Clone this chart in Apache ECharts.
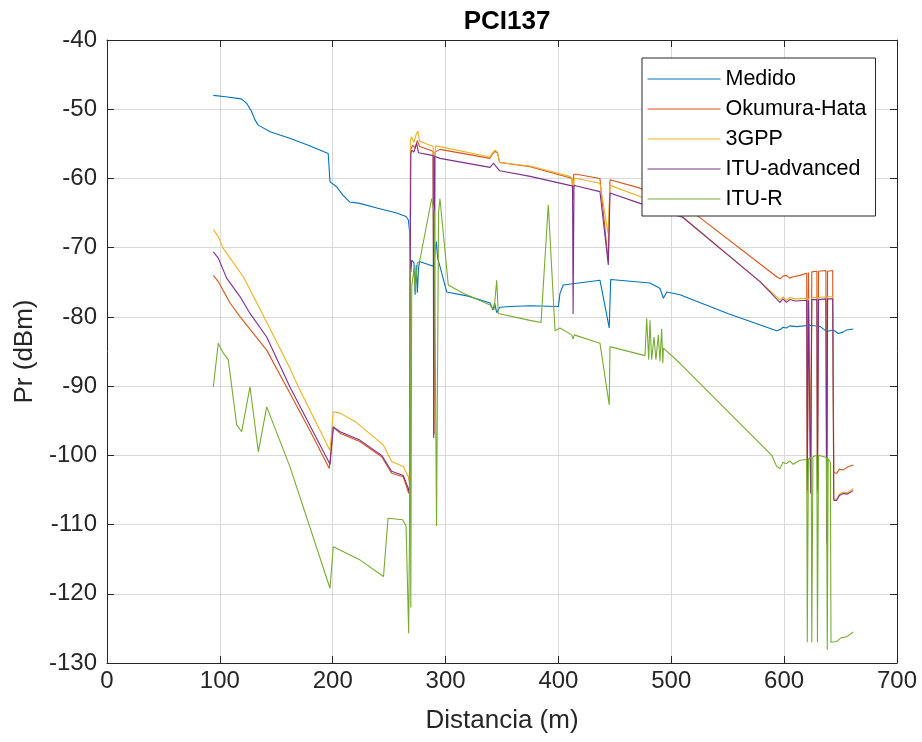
<!DOCTYPE html>
<html><head><meta charset="utf-8">
<script src="https://cdn.jsdelivr.net/npm/echarts@6/dist/echarts.min.js"></script>
<style>html,body{margin:0;padding:0;background:#fff}#c{width:922px;height:742px}</style>
</head><body><div id="c"></div><script>
const seriesNames = ['Medido','Okumura-Hata','3GPP','ITU-advanced','ITU-R'];
const xTicks = {min:0, max:700, interval:100};
const yTicks = {min:-130, max:-40, interval:10};

const medido = [[94.2,-48.0],[105,-48.2],[119,-48.5],[124,-49.2],[128,-50.3],[131,-51.5],[134,-52.3],[145,-53.3],[162,-54.2],[180,-55.3],[196,-56.4],[197.6,-60.5],[203.5,-61.2],[209,-62.4],[215,-63.4],[224,-63.6],[240,-64.3],[256.7,-65.0],[265,-65.5],[267,-66.0],[268,-67.5],[268.7,-71.0],[269.3,-73.5],[270,-71.8],[272,-72.2],[273,-76.8],[274,-72.5],[275,-76.5],[276,-73],[277,-72.0],[289,-72.7],[290.5,-71],[291.8,-69.1],[293,-71.5],[295,-72.7],[301,-76.4],[320,-77.0],[339.4,-78.0],[342,-79.0],[343.5,-78],[345.3,-79.4],[348,-78.6],[357,-78.5],[375,-78.4],[400,-78.5],[401.4,-76.6],[404.3,-75.4],[436.8,-74.7],[445,-81.6],[446.3,-74.6],[481,-75.1],[487,-75.6],[490,-75.9],[493,-77.3],[496,-76.4],[507.7,-76.8],[550,-79.5],[593.4,-82.0],[597,-81.8],[599,-81.5],[602,-81.6],[605,-81.3],[611,-81.4],[623,-81.2],[632,-81.4],[637.7,-82.1],[643.6,-81.9],[648,-82.4],[652,-82.2],[655.4,-81.9],[661.3,-81.75]];

const okumura = [[94.2,-74.0],[98.6,-74.9],[109,-78.0],[118,-80.0],[141.5,-84.8],[159,-90.1],[180,-96.5],[197,-101.9],[200.5,-95.9],[206.5,-96.8],[224,-98.0],[243.4,-100.2],[252.2,-102.6],[262.5,-103.1],[267,-105.3],[268,-105.6],[269,-55.8],[271,-55.2],[273,-55.6],[275,-54.5],[277,-55.4],[286,-55.9],[289,-56.1],[289.8,-97],[290.6,-56.2],[295,-55.8],[339.4,-57.1],[341,-56.6],[343.8,-56.1],[346,-56.3],[348,-57.7],[375,-58.3],[410,-59.9],[412,-60.0],[412.8,-63.0],[413.6,-59.4],[416,-59.4],[436.8,-60.0],[438.5,-60.2],[444.2,-72.0],[445.7,-60.2],[472.3,-61.4],[522.5,-65.3],[593.4,-74.2],[596.3,-74.5],[599,-74.1],[602,-74.0],[605,-74.4],[608,-74.2],[614,-74.0],[620,-73.7],[620.5,-102.0],[621.5,-73.6],[623,-73.6],[623.5,-102.0],[624.5,-73.5],[629,-73.4],[629.5,-102.0],[630.5,-73.4],[637,-73.3],[637.7,-102.0],[638.5,-73.4],[643,-73.3],[644,-102.5],[646.5,-102.6],[649,-102.0],[652.4,-102.1],[656,-101.7],[661.3,-101.4]];

const gpp3 = [[94.2,-67.4],[98.6,-68.4],[103,-70.1],[120.8,-74.2],[138.5,-79.8],[162,-87.4],[169.5,-90.1],[197.6,-99.3],[200.5,-93.7],[206.5,-93.9],[219.7,-95.1],[244.8,-98.5],[252.2,-100.9],[262.5,-101.6],[267,-103.1],[268,-104.0],[268.8,-54.5],[270,-54.0],[272,-54.8],[274,-53.6],[275.5,-53.2],[277,-54.6],[286,-55.2],[289,-55.4],[290,-95.0],[291,-55.3],[295,-55.4],[339.4,-56.9],[341,-56.4],[343.8,-55.9],[346,-56.2],[348,-57.7],[375,-58.2],[410,-59.7],[412.5,-60.0],[413.2,-62.0],[414,-60.0],[416,-60.0],[436.8,-60.7],[438.5,-60.9],[444,-68.0],[445.7,-61.0],[472.3,-62.6],[507.7,-65.2],[578.6,-74.9],[596.3,-77.5],[599,-77.1],[602,-77.6],[605,-77.2],[610,-77.4],[620,-77.3],[620.5,-105.5],[621.5,-77.3],[623,-77.3],[623.5,-105.5],[624.5,-77.2],[629,-77.2],[629.5,-105.5],[630.5,-77.2],[637,-77.1],[637.7,-105.5],[638.5,-77.1],[643,-77.1],[644,-106.3],[646.5,-106.3],[649,-105.6],[652.4,-105.3],[656,-105.4],[661.3,-104.8]];

const ituAdv = [[94.2,-70.6],[98.6,-71.5],[106,-74.4],[118,-77.1],[126.7,-79.5],[141.5,-82.9],[162,-90.1],[197.6,-101.3],[200.5,-95.9],[206.5,-96.6],[224,-97.8],[243.4,-100.0],[252.2,-102.3],[262.5,-102.9],[267,-104.8],[268,-105.5],[268.6,-75],[269.2,-56.5],[270,-55.9],[272,-56.2],[274.4,-54.9],[276,-56.3],[286,-56.6],[289,-56.7],[289.5,-97.5],[290.3,-56.8],[295,-57.1],[339.4,-58.4],[342.3,-57.8],[344,-57.9],[348,-58.9],[375,-59.7],[410,-61.0],[412.5,-61.1],[413,-79.6],[413.8,-61.0],[416,-61.1],[436.8,-61.9],[438.5,-62.1],[444.2,-72.5],[445.7,-62.1],[472.3,-63.6],[510,-65.6],[578.6,-74.9],[596.3,-77.9],[599,-77.4],[602,-77.9],[605,-77.5],[610,-77.7],[620,-77.6],[620.5,-105.0],[621.5,-77.6],[623,-77.6],[623.5,-105.5],[624.5,-77.5],[629,-77.5],[629.5,-105.0],[630.5,-77.5],[637,-77.4],[637.7,-112.7],[638.5,-77.4],[643,-77.4],[644,-106.5],[646.5,-106.5],[649,-105.8],[652.4,-105.5],[656,-105.6],[661.3,-105.1]];

const itur = [[94.2,-90.1],[98.6,-83.8],[103,-85.2],[107.5,-86.2],[114.9,-95.6],[119.3,-96.6],[126.7,-90.1],[134.1,-99.5],[141.5,-93.0],[162,-101.6],[197.6,-119.2],[200.5,-113.2],[224,-115.1],[245,-117.5],[249,-109.1],[262,-109.3],[265,-110.2],[267.3,-125.7],[268,-112],[268.5,-73.0],[269.2,-122.0],[270,-75.6],[272,-73.0],[273,-76.2],[275,-72.2],[277,-72.0],[287.7,-62.9],[290,-65],[292,-110.2],[293.8,-65],[295,-62.9],[302.4,-75.4],[315.7,-76.6],[339.4,-78.3],[343,-79.0],[345.3,-74.7],[346.7,-79.5],[374.8,-80.5],[384.6,-80.8],[391,-63.8],[397,-82.0],[401.4,-81.6],[411.7,-82.6],[413,-83.2],[414,-82.6],[436.8,-83.8],[438.3,-83.6],[445,-92.7],[445.7,-84.3],[476.7,-85.6],[478.2,-80.2],[480,-86.2],[481.1,-80.5],[482.6,-86.2],[484.7,-82.9],[486.4,-86.2],[488.5,-82.6],[490,-86.4],[491.5,-81.7],[492.5,-86.7],[493,-84.5],[507.7,-86.7],[589,-100.0],[593.4,-101.6],[596.3,-101.9],[599,-101.0],[602,-101.2],[605,-100.8],[608,-101.3],[614,-100.7],[620,-100.6],[620.5,-127.0],[621.5,-100.5],[624,-100.3],[624.5,-127.0],[625.5,-100.2],[629,-100.0],[629.5,-127.0],[630.5,-100.0],[637.5,-100.3],[638.2,-128.1],[639,-100.5],[641,-101.0],[641.5,-127.0],[646.5,-126.9],[650,-126.4],[655.4,-126.2],[661.3,-125.5]];

const colors = ['#0072BD','#D95319','#EDB120','#7E2F8E','#77AC30'];
const allData = [medido, okumura, gpp3, ituAdv, itur];
const FONT = "'Liberation Sans', Arial, sans-serif";
const INK = '#262626';

const chart = echarts.init(document.getElementById('c'), null, {renderer:'canvas'});
const axisCommon = {
  axisLine:{show:true,onZero:false,lineStyle:{color:INK,width:1}},
  axisTick:{show:true,inside:true,length:7,lineStyle:{color:INK}},
};
chart.setOption({
  animation:false,
  backgroundColor:'#fff',
  title:{text:'PCI137',left:502,textAlign:'center',top:4,
    textStyle:{fontFamily:FONT,fontSize:26,fontWeight:'bold',color:'#000'}},
  grid:{left:107,right:25,top:40,bottom:79,containLabel:false},
  legend:{
    data:seriesNames, orient:'vertical', left:642, top:58,
    padding:[10,9,6,5], itemWidth:73, itemHeight:20, itemGap:8,
    backgroundColor:'#fff', borderColor:INK, borderWidth:1, borderRadius:0,
    itemStyle:{opacity:0},
    lineStyle:{width:1},
    textStyle:{fontFamily:FONT,fontSize:21.5,color:'#000'}
  },
  xAxis:[
    Object.assign({type:'value',position:'bottom',min:xTicks.min,max:xTicks.max,interval:xTicks.interval,
      name:'Distancia (m)',nameLocation:'middle',nameGap:45,
      nameTextStyle:{fontFamily:FONT,fontSize:26,color:INK},
      axisLabel:{fontFamily:FONT,fontSize:24,color:INK,margin:6},
      splitLine:{show:true,lineStyle:{color:'#d9d9d9',width:1}}},axisCommon),
    Object.assign({type:'value',position:'top',min:xTicks.min,max:xTicks.max,interval:xTicks.interval,
      axisLabel:{show:false},splitLine:{show:false}},axisCommon)
  ],
  yAxis:[
    Object.assign({type:'value',position:'left',min:yTicks.min,max:yTicks.max,interval:yTicks.interval,
      name:'Pr (dBm)',nameLocation:'middle',nameGap:64,nameRotate:90,
      nameTextStyle:{fontFamily:FONT,fontSize:26,color:INK},
      axisLabel:{fontFamily:FONT,fontSize:24,color:INK,margin:10},
      splitLine:{show:true,lineStyle:{color:'#d9d9d9',width:1}}},axisCommon),
    Object.assign({type:'value',position:'right',min:yTicks.min,max:yTicks.max,interval:yTicks.interval,
      axisLabel:{show:false},splitLine:{show:false}},axisCommon)
  ],
  series: seriesNames.map((n,i)=>({
    name:n, type:'line', data:allData[i], symbol:'none', showSymbol:false,
    xAxisIndex:0, yAxisIndex:0,
    lineStyle:{color:colors[i],width:1.1}, itemStyle:{color:colors[i]},
    emphasis:{disabled:true}
  }))
});
</script></body></html>
